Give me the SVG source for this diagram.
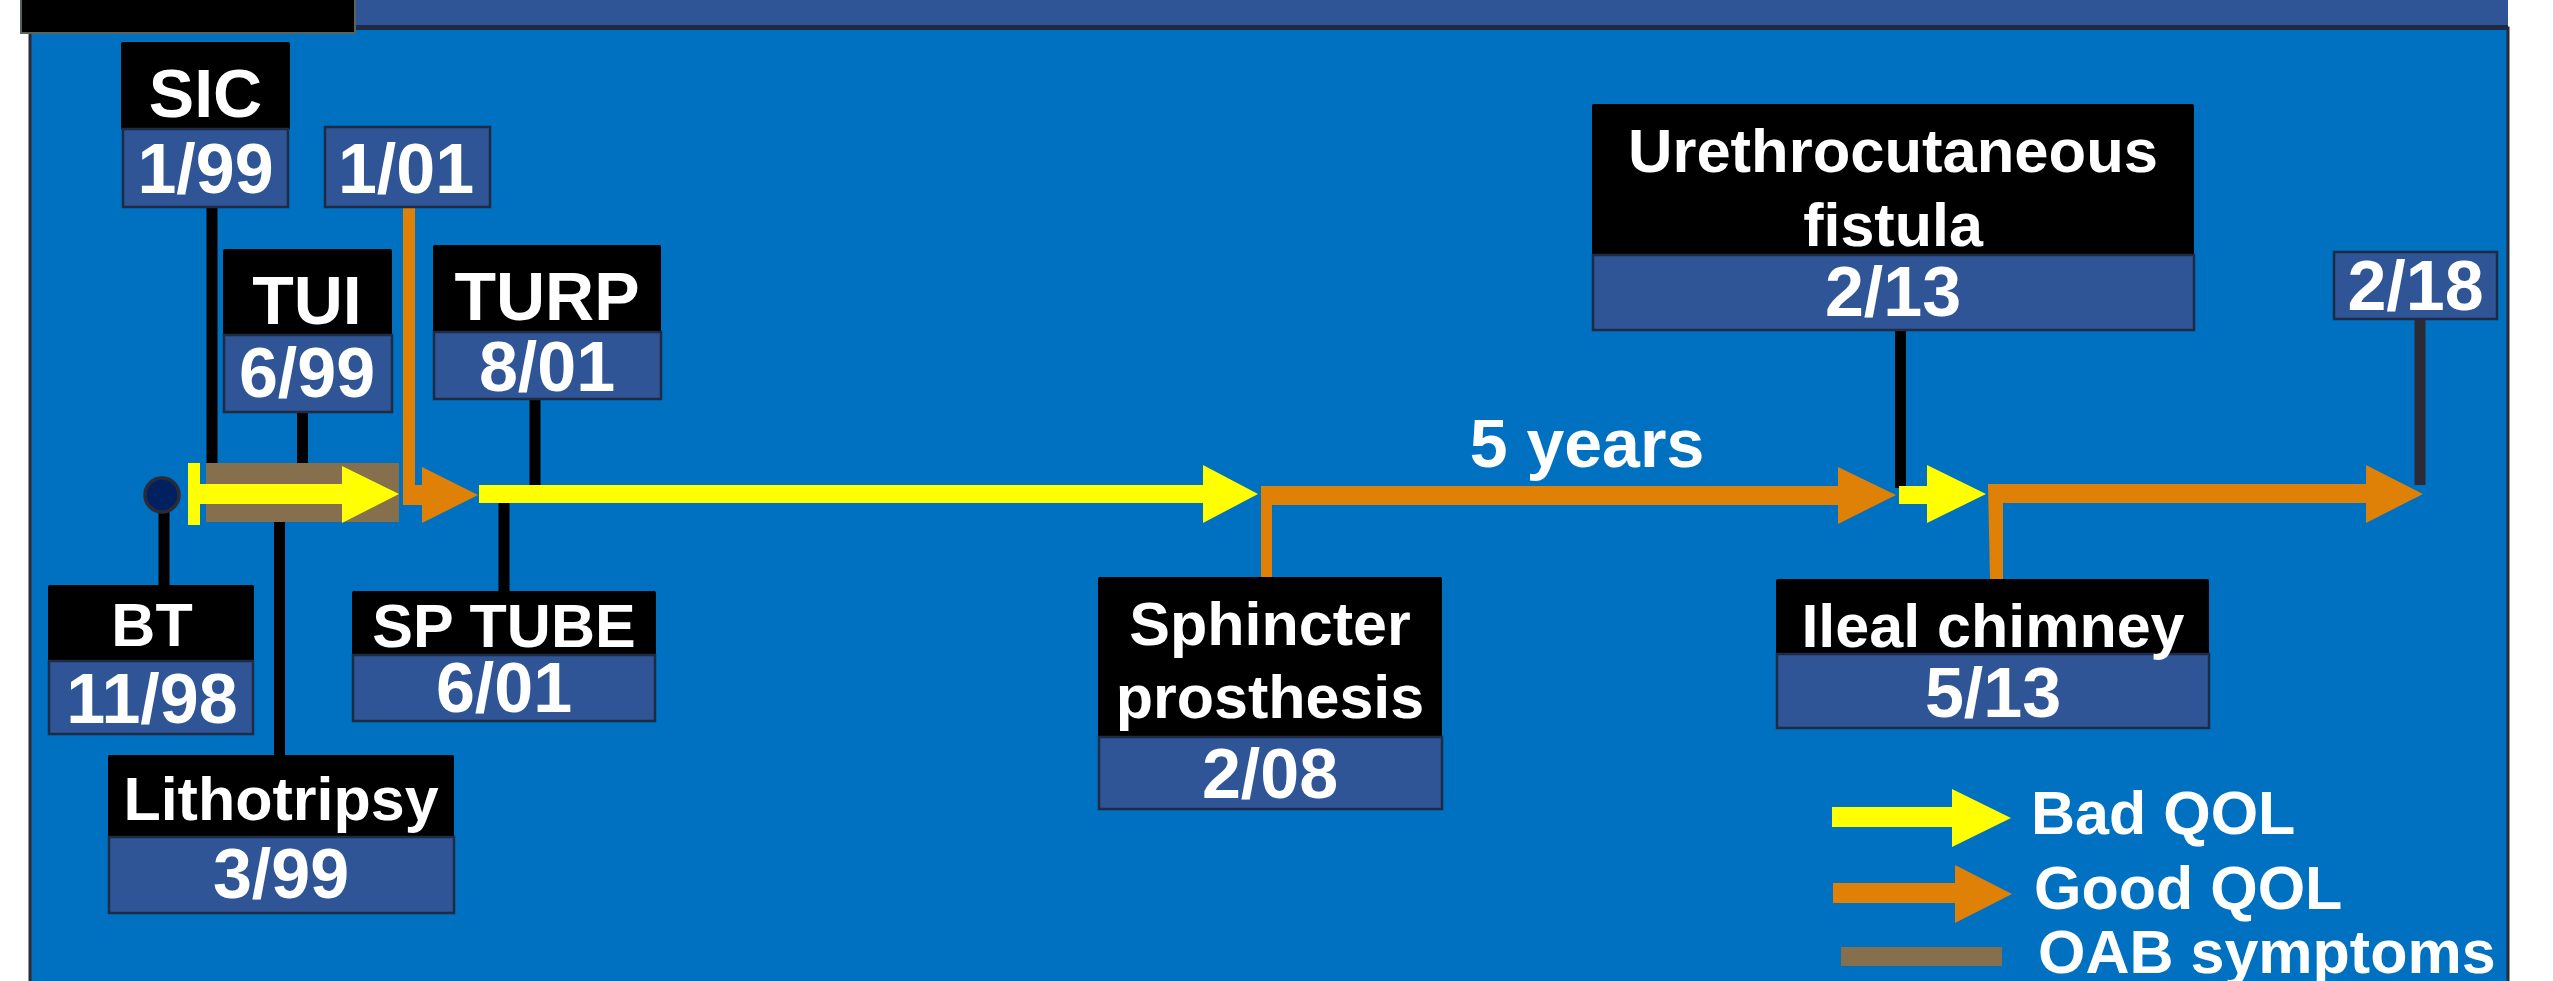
<svg xmlns="http://www.w3.org/2000/svg" width="2553" height="981" viewBox="0 0 2553 981">
<style>
.blk{fill:#000000}
.dt{fill:#2F5597;stroke:#1F2A44;stroke-width:2.5}
.t{font-family:"Liberation Sans",Arial,Helvetica,sans-serif;font-weight:bold;fill:#FFFFFF;text-anchor:middle}
.lb{font-size:61px}
.hd{font-size:68px}
.dn{font-size:70px}
.ln{stroke:#000000;stroke-width:11}
.yel{fill:#FFFF00}
.org{fill:#DF8007}
.brn{fill:#866F4D}
.lg{font-family:"Liberation Sans",Arial,Helvetica,sans-serif;font-weight:bold;fill:#FFFFFF;font-size:61px}
</style>
<rect x="0" y="0" width="2553" height="981" fill="#FFFFFF"/>
<g id="background">
<rect x="30" y="28" width="2478" height="960" fill="#0070C0" stroke="#2B2B38" stroke-width="3"/>
<rect x="355" y="-5" width="2153" height="30" fill="#2F5597"/>
<rect x="355" y="25" width="2153" height="5" fill="#1F2A44"/>
<rect x="21" y="-3" width="334" height="36" fill="#000000" stroke="#59635E" stroke-width="2"/>
</g>
<g id="connectors">
<line class="ln" x1="212" y1="207" x2="212" y2="490"/>
<line class="ln" x1="302.5" y1="412" x2="302.5" y2="470"/>
<line class="ln" x1="279.5" y1="515" x2="279.5" y2="755"/>
<line class="ln" x1="535" y1="399" x2="535" y2="490"/>
<line class="ln" x1="504" y1="500" x2="504" y2="591"/>
<line class="ln" x1="164" y1="500" x2="164" y2="585"/>
<line class="ln" x1="1900.5" y1="330" x2="1900.5" y2="488"/>
<line x1="2420" y1="319" x2="2420" y2="485" stroke="#2B2B38" stroke-width="11"/>
<rect class="brn" x="206" y="463" width="193" height="59"/>
<rect class="yel" x="188" y="463" width="12" height="62"/>
<polygon class="yel" points="200,484 342,484 342,466 399,494 342,523 342,504 200,504"/>
<polygon class="org" points="403,207 415,207 415,485 422,485 422,467 478,495 422,523 422,505 403,505"/>
<polygon class="yel" points="479,485 1203,485 1203,465 1258,494 1203,523 1203,503 479,503"/>
<polygon class="org" points="1261,577 1261,486 1838,486 1838,467 1896,495 1838,524 1838,505 1272,505 1272,577"/>
<polygon class="yel" points="1899,486 1927,486 1927,465 1986,494 1927,523 1927,504 1899,504"/>
<polygon class="org" points="1990,579 1988,484 2366,484 2366,465 2423,494 2366,523 2366,503 2003,503 2003,579"/>
<circle cx="162" cy="495" r="17" fill="#002060" stroke="#2B2B38" stroke-width="3.5"/>
<text class="t hd" x="1587" y="467">5 years</text>
</g>
<g id="node-sic">
<rect class="blk" x="121" y="42" width="169" height="88" rx="2"/>
<rect class="dt" x="123" y="129" width="165" height="78"/>
<text class="t hd" x="205.5" y="117">SIC</text>
<text class="t dn" x="205.5" y="193">1/99</text>
</g>
<g id="node-1-01">
<rect class="dt" x="325" y="127" width="165" height="80"/>
<text class="t dn" x="406" y="193">1/01</text>
</g>
<g id="node-tui">
<rect class="blk" x="223" y="249" width="169" height="87" rx="2"/>
<rect class="dt" x="224" y="335" width="168" height="77"/>
<text class="t hd" x="307" y="324">TUI</text>
<text class="t dn" x="307" y="397">6/99</text>
</g>
<g id="node-turp">
<rect class="blk" x="433" y="245" width="228" height="88" rx="2"/>
<rect class="dt" x="434" y="332" width="227" height="67"/>
<text class="t hd" x="547" y="320">TURP</text>
<text class="t dn" x="547" y="391">8/01</text>
</g>
<g id="node-bt">
<rect class="blk" x="48" y="585" width="206" height="77" rx="2"/>
<rect class="dt" x="49" y="661" width="204" height="73"/>
<text class="t lb" x="152" y="646">BT</text>
<text class="t dn" x="152" y="723">11/98</text>
</g>
<g id="node-sp-tube">
<rect class="blk" x="352" y="591" width="304" height="65" rx="2"/>
<rect class="dt" x="353" y="655" width="302" height="66"/>
<text class="t lb" x="504" y="647">SP TUBE</text>
<text class="t dn" x="504" y="712">6/01</text>
</g>
<g id="node-lithotripsy">
<rect class="blk" x="108" y="755" width="346" height="83" rx="2"/>
<rect class="dt" x="109" y="837" width="345" height="76"/>
<text class="t lb" x="281" y="820">Lithotripsy</text>
<text class="t dn" x="281" y="898">3/99</text>
</g>
<g id="node-sphincter">
<rect class="blk" x="1098" y="577" width="344" height="161" rx="2"/>
<rect class="dt" x="1099" y="737" width="343" height="72"/>
<text class="t lb" x="1270" y="645">Sphincter</text>
<text class="t lb" x="1270" y="718">prosthesis</text>
<text class="t dn" x="1270" y="798">2/08</text>
</g>
<g id="node-urethro">
<rect class="blk" x="1592" y="104" width="602" height="152" rx="2"/>
<rect class="dt" x="1593" y="255" width="601" height="75"/>
<text class="t lb" x="1893" y="172" textLength="530" lengthAdjust="spacingAndGlyphs">Urethrocutaneous</text>
<text class="t lb" x="1893" y="246">fistula</text>
<text class="t dn" x="1893" y="316">2/13</text>
</g>
<g id="node-ileal">
<rect class="blk" x="1776" y="579" width="433" height="76" rx="2"/>
<rect class="dt" x="1777" y="654" width="432" height="74"/>
<text class="t lb" x="1993" y="647">Ileal chimney</text>
<text class="t dn" x="1993" y="717">5/13</text>
</g>
<g id="node-2-18">
<rect class="dt" x="2334" y="252" width="163" height="67"/>
<text class="t dn" x="2415.5" y="310">2/18</text>
</g>
<g id="legend">
<polygon class="yel" points="1832,807 1952,807 1952,789 2011,818 1952,847 1952,827 1832,827"/>
<text class="lg" x="2031" y="834">Bad QOL</text>
<polygon class="org" points="1833,883 1955,883 1955,865 2012,894 1955,923 1955,903 1833,903"/>
<text class="lg" x="2034" y="909">Good QOL</text>
<rect class="brn" x="1841" y="947" width="161" height="19"/>
<text class="lg" x="2038" y="973">OAB symptoms</text>
</g>
</svg>
